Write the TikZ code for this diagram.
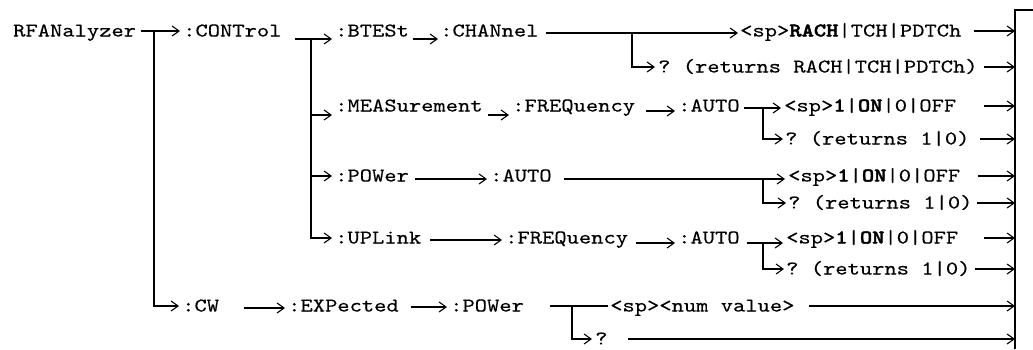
\documentclass[tikz,border=0pt]{standalone}
\usepackage{fontspec}
\setmonofont{lmmono10-regular.otf}[FakeStretch=1.2,FakeBold=0.3,BoldFont=lmmonolt10-bold.otf,BoldFeatures={FakeBold=2}]
\usetikzlibrary{arrows.meta}
\begin{document}
\begin{tikzpicture}[x=1pt,y=-1pt,
  lbl/.style={anchor=west,inner sep=0pt,text height=14pt,text depth=3pt,font=\fontsize{19.5}{23}\selectfont\ttfamily},
  ln/.style={line width=1.1pt},
  arr/.style={ln,-{Straight Barb[length=7pt,width=10pt]}}]
\useasboundingbox (0,0) rectangle (1033,349);
% nodes
\node[lbl] (rfa) at (13,31) {RFANalyzer};
\node[lbl] (ctl) at (183,31) {:CONTrol};
\node[lbl] (bts) at (335,31) {:BTESt};
\node[lbl] (chn) at (440,31) {:CHANnel};
\node[lbl] (rach) at (740,31) {<sp>\textbf{RACH}|TCH|PDTCh};
\node[lbl] (rq) at (658,67) {? (returns RACH|TCH|PDTCh)};
\node[lbl] (meas) at (335,106) {:MEASurement};
\node[lbl] (mfreq) at (512,106) {:FREQuency};
\node[lbl] (mauto) at (678,106) {:AUTO};
\node[lbl] (mon) at (784,106) {<sp>\textbf{1}|\textbf{ON}|0|OFF};
\node[lbl] (mq) at (785,139) {? (returns 1|0)};
\node[lbl] (pow) at (335,176) {:POWer};
\node[lbl] (pauto) at (490,176) {:AUTO};
\node[lbl] (pon) at (788,176) {<sp>\textbf{1}|\textbf{ON}|0|OFF};
\node[lbl] (pq) at (788,203) {? (returns 1|0)};
\node[lbl] (upl) at (335,238) {:UPLink};
\node[lbl] (ufreq) at (505,238) {:FREQuency};
\node[lbl] (uauto) at (678,238) {:AUTO};
\node[lbl] (uon) at (786,238) {<sp>\textbf{1}|\textbf{ON}|0|OFF};
\node[lbl] (uq) at (786,269) {? (returns 1|0)};
\node[lbl] (cw) at (182,306) {:CW};
\node[lbl] (exp) at (288,306) {:EXPected};
\node[lbl] (cpow) at (450,306) {:POWer};
\node[lbl] (num) at (610,306) {<sp><num value>};
\node[lbl] (cq) at (595,339) {?};
% right bar
\coordinate (barT) at (1015,10);
\coordinate (barB) at (1015,349);
\coordinate (corner) at (1033,10);
\draw[ln] (corner) -- (barT) -- (barB);
% branch points
\coordinate (t1) at (154,31);
\coordinate (t2) at (311,39);
\coordinate (b1) at (632,33);
\coordinate (b2) at (763,108);
\coordinate (b3) at (763,179);
\coordinate (b4) at (763,243);
\coordinate (b5) at (572,306);
% trunk 1
\draw[arr] ([xshift=5pt]rfa.east) -- ([xshift=-3pt]ctl.west);
\draw[arr] (t1) |- ([xshift=-3pt]cw.west);
% trunk 2
\draw[arr] ([xshift=13pt,yshift=-8pt]ctl.east) -- ([xshift=-3pt,yshift=-8pt]bts.west);
\draw[arr] (t2) |- ([xshift=-3pt,yshift=-9pt]meas.west);
\draw[arr] (t2) |- ([xshift=-3pt]pow.west);
\draw[arr] (t2) |- ([xshift=-3pt]upl.west);
% BTESt
\draw[arr] ([xshift=4pt,yshift=-8pt]bts.east) -- ([xshift=-2pt,yshift=-8pt]chn.west);
\draw[arr] ([xshift=7pt,yshift=-2pt]chn.east) -- ([xshift=-2pt,yshift=-2pt]rach.west);
\draw[arr] (b1) |- ([xshift=-3pt]rq.west);
% MEASurement
\draw[arr] ([xshift=5pt,yshift=-9pt]meas.east) -- ([xshift=-3pt,yshift=-9pt]mfreq.west);
\draw[arr] ([xshift=11pt,yshift=-5pt]mfreq.east) -- ([xshift=-3pt,yshift=-5pt]mauto.west);
\draw[arr] ([xshift=4pt,yshift=-2pt]mauto.east) -- ([xshift=-3pt,yshift=-2pt]mon.west);
\draw[arr] (b2) |- ([xshift=-2pt]mq.west);
% POWer
\draw[arr] ([xshift=6pt,yshift=-3pt]pow.east) -- ([xshift=-3pt,yshift=-3pt]pauto.west);
\draw[arr] ([xshift=12pt,yshift=-3pt]pauto.east) -- ([xshift=-3pt,yshift=-3pt]pon.west);
\draw[arr] (b3) |- ([xshift=-2pt]pq.west);
% UPLink
\draw[arr] ([xshift=9pt,yshift=-2pt]upl.east) -- ([xshift=-3pt,yshift=-2pt]ufreq.west);
\draw[arr] ([xshift=8pt,yshift=-5pt]ufreq.east) -- ([xshift=-3pt,yshift=-5pt]uauto.west);
\draw[arr] ([xshift=7pt,yshift=-5pt]uauto.east) -- ([xshift=-3pt,yshift=-5pt]uon.west);
\draw[arr] (b4) |- ([xshift=-2pt]uq.west);
% CW
\draw[arr] ([xshift=25pt,yshift=-2pt]cw.east) -- ([xshift=-3pt,yshift=-2pt]exp.west);
\draw[arr] ([xshift=12pt,yshift=-1pt]exp.east) -- ([xshift=-3pt,yshift=-1pt]cpow.west);
\draw[ln] ([xshift=26pt]cpow.east) -- ([xshift=-2pt]num.west);
\draw[arr] (b5) |- ([xshift=-3pt]cq.west);
% to right bar
\draw[arr] ([xshift=12pt]rach.east) -- (rach.east -| barT);
\draw[arr] ([xshift=6pt]rq.east) -- (rq.east -| barT);
\draw[arr] ([xshift=28pt]mon.east) -- (mon.east -| barT);
\draw[arr] ([xshift=10pt]mq.east) -- (mq.east -| barT);
\draw[arr] ([xshift=18pt]pon.east) -- (pon.east -| barT);
\draw[arr] ([xshift=4pt]pq.east) -- (pq.east -| barT);
\draw[arr] ([xshift=26pt]uon.east) -- (uon.east -| barT);
\draw[arr] ([xshift=4pt]uq.east) -- (uq.east -| barT);
\draw[arr] ([xshift=14pt]num.east) -- (num.east -| barT);
\draw[arr] ([xshift=20pt]cq.east) -- (cq.east -| barT);
\end{tikzpicture}
\end{document}
